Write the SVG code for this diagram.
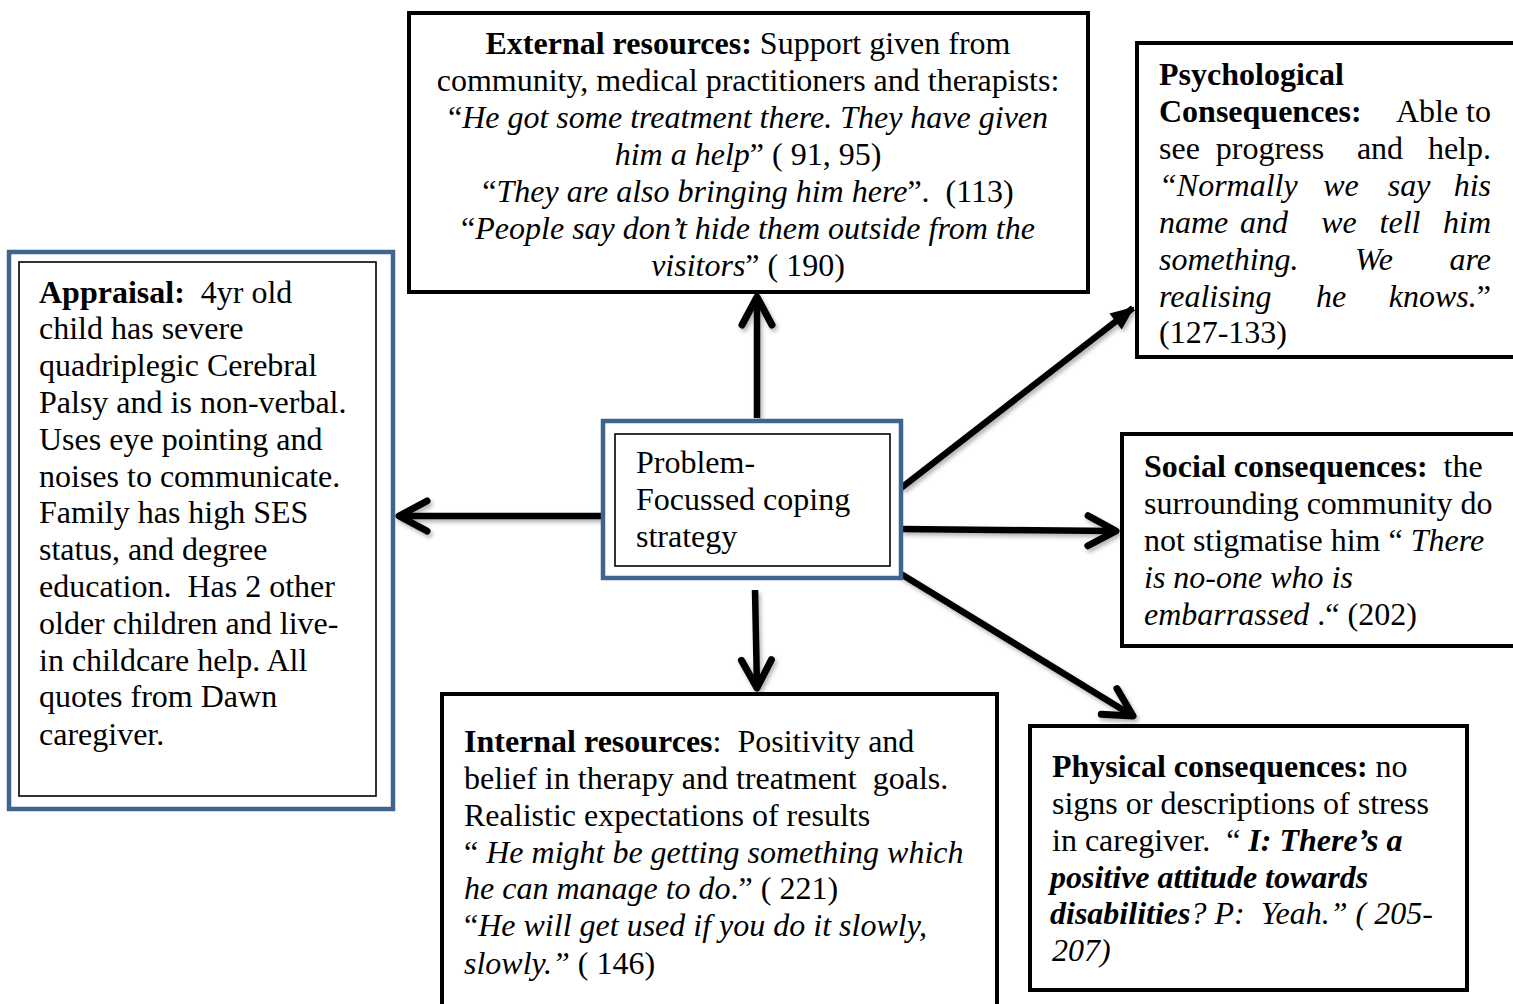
<svg xmlns="http://www.w3.org/2000/svg" width="1513" height="1004" viewBox="0 0 1513 1004">
<style>
text{font-family:"Liberation Serif","Times New Roman",serif;font-size:32px;fill:#000}
.b{font-weight:bold}
.i{font-style:italic}
.bi{font-weight:bold;font-style:italic}
.box{fill:#fff;stroke:#000;stroke-width:4}
.blue{fill:#fff;stroke:#41648f;stroke-width:4.5}
.inner{fill:none;stroke:#000;stroke-width:1.6}
.conn{fill:none;stroke:#000;stroke-width:6.5;stroke-linecap:butt}
</style>
<defs>
<marker id="chev" markerUnits="userSpaceOnUse" viewBox="-40 -24 48 48" markerWidth="48" markerHeight="48" refX="0" refY="0" orient="auto">
<path d="M-28,-15 L0,0 L-28,15" fill="none" stroke="#000" stroke-width="7" stroke-linecap="round" stroke-linejoin="round"/>
</marker>
<marker id="tri" markerUnits="userSpaceOnUse" viewBox="-30 -15 34 30" markerWidth="34" markerHeight="30" refX="0" refY="0" orient="auto">
<path d="M-22,-10 L2,0 L-22,10 Z" fill="#000"/>
</marker>
<filter id="sh" x="-20%" y="-20%" width="140%" height="140%">
<feDropShadow dx="2" dy="3" stdDeviation="2" flood-color="#000" flood-opacity="0.3"/>
</filter>
</defs>

<g id="connectors" filter="url(#sh)">
<line class="conn" x1="603" y1="516" x2="399" y2="516" marker-end="url(#chev)"/>
<line class="conn" x1="757" y1="418" x2="757" y2="297" marker-end="url(#chev)"/>
<line class="conn" x1="755" y1="590" x2="757" y2="688" marker-end="url(#chev)"/>
<line class="conn" x1="901" y1="488" x2="1133" y2="308" marker-end="url(#tri)"/>
<line class="conn" x1="901" y1="529" x2="1116" y2="531" marker-end="url(#chev)"/>
<line class="conn" x1="901" y1="574" x2="1133" y2="716" marker-end="url(#chev)"/>
</g>

<g id="appraisal">
<rect class="blue" x="9" y="252" width="384" height="557"/>
<rect class="inner" x="19" y="262" width="357" height="534"/>
<text xml:space="preserve"><tspan x="39" y="303"><tspan class="b">Appraisal:</tspan>  4yr old</tspan><tspan x="39" y="339">child has severe</tspan><tspan x="39" y="376">quadriplegic Cerebral</tspan><tspan x="39" y="413">Palsy and is non-verbal.</tspan><tspan x="39" y="450">Uses eye pointing and</tspan><tspan x="39" y="487">noises to communicate.</tspan><tspan x="39" y="523">Family has high SES</tspan><tspan x="39" y="560">status, and degree</tspan><tspan x="39" y="597">education.  Has 2 other</tspan><tspan x="39" y="634">older children and live-</tspan><tspan x="39" y="671">in childcare help. All</tspan><tspan x="39" y="707">quotes from Dawn</tspan><tspan x="39" y="745">caregiver.</tspan></text>
</g>

<g id="external">
<rect class="box" x="409" y="13" width="679" height="279"/>
<text text-anchor="middle" xml:space="preserve"><tspan x="748" y="54"><tspan class="b">External resources:</tspan> Support given from</tspan><tspan x="748" y="91">community, medical practitioners and therapists:</tspan><tspan x="748" y="128">“<tspan class="i">He got some treatment there. They have given</tspan></tspan><tspan x="748" y="165"><tspan class="i">him a help</tspan>” ( 91, 95)</tspan><tspan x="748" y="202">“<tspan class="i">They are also bringing him here</tspan>”.  (113)</tspan><tspan x="748" y="239">“<tspan class="i">People say don’t hide them outside from the</tspan></tspan><tspan x="748" y="276"><tspan class="i">visitors</tspan>” ( 190)</tspan></text>
</g>

<g id="psychological">
<rect class="box" x="1137" y="43" width="380" height="314"/>
<text class="b" x="1159" y="85">Psychological</text>
<text class="b" x="1159" y="122">Consequences:</text>
<text x="1491" y="122" text-anchor="end">Able to</text>
<text x="1159" y="159">see</text>
<text x="1270" y="159" text-anchor="middle">progress</text>
<text x="1380" y="159" text-anchor="middle">and</text>
<text x="1491" y="159" text-anchor="end">help.</text>
<text class="i" x="1159" y="196">“Normally</text>
<text class="i" x="1341" y="196" text-anchor="middle">we</text>
<text class="i" x="1409" y="196" text-anchor="middle">say</text>
<text class="i" x="1491" y="196" text-anchor="end">his</text>
<text class="i" x="1159" y="233">name</text>
<text class="i" x="1264" y="233" text-anchor="middle">and</text>
<text class="i" x="1339" y="233" text-anchor="middle">we</text>
<text class="i" x="1400" y="233" text-anchor="middle">tell</text>
<text class="i" x="1491" y="233" text-anchor="end">him</text>
<text class="i" x="1159" y="270">something.</text>
<text class="i" x="1374" y="270" text-anchor="middle">We</text>
<text class="i" x="1491" y="270" text-anchor="end">are</text>
<text class="i" x="1159" y="307">realising</text>
<text class="i" x="1331" y="307" text-anchor="middle">he</text>
<text x="1491" y="307" text-anchor="end"><tspan class="i">knows.</tspan>”</text>
<text x="1159" y="343">(127-133)</text>
</g>

<g id="center">
<rect class="blue" x="603" y="421" width="298" height="157"/>
<rect class="inner" x="615" y="434" width="275" height="132"/>
<text><tspan x="636" y="473">Problem-</tspan><tspan x="636" y="510">Focussed coping</tspan><tspan x="636" y="547">strategy</tspan></text>
</g>

<g id="social">
<rect class="box" x="1122" y="434" width="395" height="212"/>
<text xml:space="preserve"><tspan x="1144" y="477"><tspan class="b">Social consequences:</tspan>  the</tspan><tspan x="1144" y="514">surrounding community do</tspan><tspan x="1144" y="551">not stigmatise him “ <tspan class="i">There</tspan></tspan><tspan x="1144" y="588" class="i">is no-one who is</tspan><tspan x="1144" y="625"><tspan class="i">embarrassed</tspan> .“ (202)</tspan></text>
</g>

<g id="internal">
<rect class="box" x="442" y="694" width="555" height="320"/>
<text xml:space="preserve"><tspan x="464" y="752"><tspan class="b">Internal resources</tspan>:  Positivity and</tspan><tspan x="464" y="789">belief in therapy and treatment  goals.</tspan><tspan x="464" y="826">Realistic expectations of results</tspan><tspan x="464" y="863">“ <tspan class="i">He might be getting something which</tspan></tspan><tspan x="464" y="899"><tspan class="i">he can manage to do</tspan>.” ( 221)</tspan><tspan x="464" y="936">“<tspan class="i">He will get used if you do it slowly,</tspan></tspan><tspan x="464" y="974"><tspan class="i">slowly.”</tspan> ( 146)</tspan></text>
</g>

<g id="physical">
<rect class="box" x="1030" y="726" width="437" height="264"/>
<text xml:space="preserve"><tspan x="1052" y="777"><tspan class="b">Physical consequences:</tspan> no</tspan><tspan x="1052" y="814">signs or descriptions of stress</tspan><tspan x="1052" y="851">in caregiver.  “ <tspan class="bi">I: There’s a</tspan></tspan><tspan x="1050" y="888" class="bi">positive attitude towards</tspan><tspan x="1050" y="924"><tspan class="bi">disabilities</tspan><tspan class="i">? P:  Yeah.” ( 205-</tspan></tspan><tspan x="1052" y="961" class="i">207)</tspan></text>
</g>
</svg>
